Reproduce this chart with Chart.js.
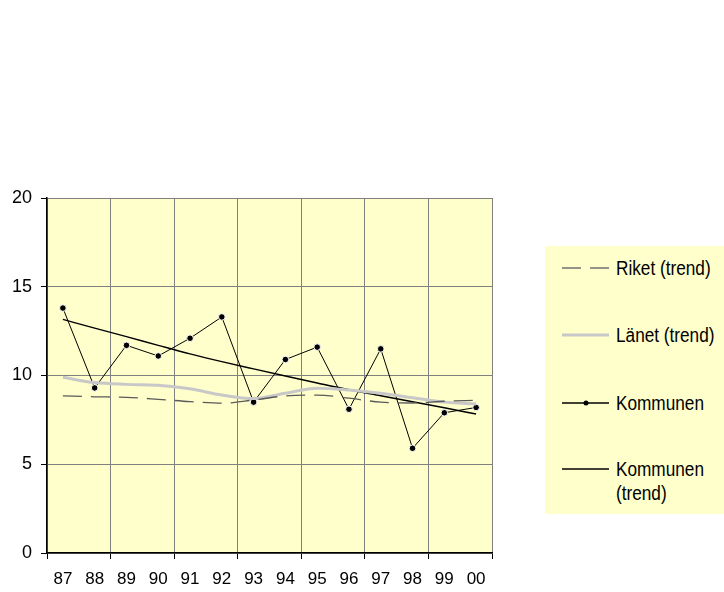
<!DOCTYPE html>
<html>
<head>
<meta charset="utf-8">
<script src="https://cdn.jsdelivr.net/npm/chart.js@4.4.1/dist/chart.umd.min.js"></script>
<style>
    html, body { margin: 0; padding: 0; background: #fff; }
    #wrap { position: relative; width: 724px; height: 592px; }
    #chart { position: absolute; left: 0; top: 0; }
    #legend {
        position: absolute; left: 545px; top: 246px; width: 179px; height: 268px;
        background: #ffffcc;
        font-family: 'Liberation Sans', Arial, sans-serif;
        font-size: 20px; color: #000;
    }
    .item { position: absolute; left: 0; width: 179px; }
    .item svg { position: absolute; left: 17px; top: 0; }
    .item span {
        position: absolute; left: 71px; line-height: 24px; white-space: nowrap;
        transform: scaleX(0.86); transform-origin: left center;
    }
</style>
</head>
<body>
<div id="wrap">
    <canvas id="chart" width="724" height="592"></canvas>
    <div id="legend"></div>
</div>
<script>
const years = ['87', '88', '89', '90', '91', '92', '93', '94', '95', '96', '97', '98', '99', '00'];
const riketTrend = [8.85, 8.8, 8.77, 8.66, 8.53, 8.44, 8.62, 8.85, 8.9, 8.72, 8.5, 8.45, 8.55, 8.6];
const lanetTrend = [9.9, 9.6, 9.5, 9.45, 9.25, 8.9, 8.7, 9.0, 9.28, 9.18, 9.0, 8.75, 8.5, 8.4];
const kommunen = [13.8, 9.3, 11.7, 11.1, 12.1, 13.3, 8.5, 10.9, 11.6, 8.1, 11.5, 5.9, 7.9, 8.2];
const kommunenTrend = [13.16, 12.67, 12.19, 11.7, 11.22, 10.78, 10.37, 9.97, 9.58, 9.2, 8.86, 8.52, 8.18, 7.83];
const yTicks = [0, 5, 10, 15, 20];

const FONT = "'Liberation Sans', Arial, sans-serif";

// plot background, drawn before the grid
const plotBackground = {
    id: 'plotBackground',
    beforeDraw(chart) {
        const a = chart.chartArea;
        const ctx = chart.ctx;
        ctx.save();
        ctx.fillStyle = '#ffffcc';
        ctx.fillRect(a.left, a.top, a.right - a.left, a.bottom - a.top);
        ctx.restore();
    }
};

// vertical grid only on every second category boundary
function everyOther(color) {
    return ctx => (ctx.index === undefined || ctx.index % 2 === 0) ? color : 'rgba(0,0,0,0)';
}

const datasets = [
    {
        label: 'Riket (trend)',
        data: riketTrend,
        borderColor: '#5a5a5a',
        borderWidth: 1.3,
        borderDash: [19, 9],
        pointRadius: 0,
        cubicInterpolationMode: 'monotone'
    },
    {
        label: 'Länet (trend)',
        data: lanetTrend,
        borderColor: '#c8c8c8',
        borderWidth: 3,
        pointRadius: 0,
        cubicInterpolationMode: 'monotone'
    },
    {
        label: 'Kommunen',
        data: kommunen,
        borderColor: '#000',
        borderWidth: 1,
        pointRadius: 3.3,
        pointBackgroundColor: '#000',
        pointBorderColor: '#fff',
        pointBorderWidth: 1
    },
    {
        label: 'Kommunen (trend)',
        data: kommunenTrend,
        borderColor: '#000',
        borderWidth: 1.4,
        pointRadius: 0,
        cubicInterpolationMode: 'monotone'
    }
];

const chart = new Chart(document.getElementById('chart').getContext('2d'), {
    type: 'line',
    data: { labels: years, datasets: datasets },
    plugins: [plotBackground],
    options: {
        responsive: false,
        animation: false,
        layout: { padding: { left: 0, top: 198, right: 232, bottom: 0 } },
        plugins: { legend: { display: false }, tooltip: { enabled: false } },
        scales: {
            x: {
                type: 'category',
                offset: true,
                afterFit: scale => { scale.height = 39; },
                grid: {
                    offset: true,
                    color: everyOther('#808080'),
                    tickColor: everyOther('#000'),
                    tickLength: 6,
                    lineWidth: 1
                },
                border: { color: '#000', width: 1.5 },
                ticks: {
                    color: '#000',
                    padding: 10,
                    maxRotation: 0,
                    autoSkip: false,
                    font: { family: FONT, size: 17 }
                }
            },
            y: {
                min: 0,
                max: 20,
                afterFit: scale => { scale.width = 47; },
                afterBuildTicks: scale => { scale.ticks = yTicks.map(v => ({ value: v })); },
                grid: { color: '#808080', tickColor: '#000', tickLength: 6, lineWidth: 1 },
                border: { color: '#000', width: 1.5 },
                ticks: {
                    color: '#000',
                    padding: 9,
                    font: { family: FONT, size: 18 }
                }
            }
        }
    }
});

// legend with line samples
const legendRows = [
    { top: 10, lines: ['Riket (trend)'] },
    { top: 77, lines: ['Länet (trend)'] },
    { top: 145, lines: ['Kommunen'] },
    { top: 211, lines: ['Kommunen', '(trend)'] }
];
const legend = document.getElementById('legend');
legendRows.forEach((row, i) => {
    const ds = datasets[i];
    const div = document.createElement('div');
    div.className = 'item';
    div.style.top = row.top + 'px';
    const dash = ds.borderDash ? `stroke-dasharray="${ds.borderDash.join(' ')}"` : '';
    const dot = ds.pointRadius ? '<circle cx="24" cy="12" r="2.5" fill="#000"/>' : '';
    const stroke = i === 0 ? '#707070' : ds.borderColor;
    div.innerHTML =
        `<svg width="48" height="24"><line x1="0" y1="12" x2="47" y2="12" stroke="${stroke}" ` +
        `stroke-width="${ds.borderWidth < 1.5 ? 1.3 : ds.borderWidth}" ${dash}/>${dot}</svg>` +
        row.lines.map((t, k) => `<span style="top:${k * 24}px">${t}</span>`).join('');
    legend.appendChild(div);
});
</script>
</body>
</html>
